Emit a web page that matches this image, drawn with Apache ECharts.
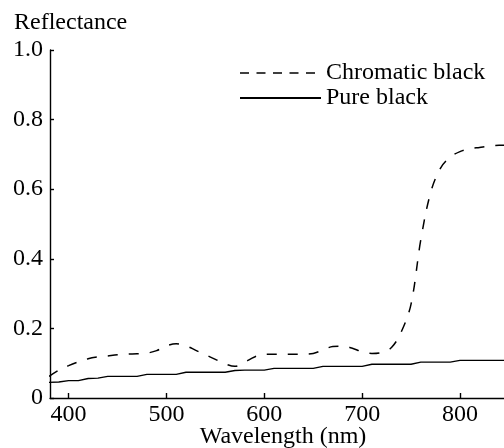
<!DOCTYPE html>
<html>
<head>
<meta charset="utf-8">
<script src="https://cdn.jsdelivr.net/npm/echarts@6/dist/echarts.min.js"></script>
<style>html,body{margin:0;padding:0;background:#fff;}#c{width:504px;height:448px;}</style>
</head>
<body>
<div id="c"></div>
<script>
const wavelengths = [380,390,400,410,420,430,440,450,460,470,480,490,500,510,520,530,540,550,560,570,580,590,600,610,620,630,640,650,660,670,680,690,700,710,720,730,740,750,760,770,780,790,800,810,820,830,840,850];
const chromaticBlack = [0.062,0.080,0.093,0.104,0.113,0.118,0.121,0.124,0.126,0.127,0.129,0.136,0.150,0.156,0.150,0.137,0.124,0.111,0.098,0.091,0.103,0.118,0.126,0.126,0.126,0.126,0.126,0.128,0.138,0.148,0.149,0.143,0.133,0.128,0.131,0.145,0.190,0.270,0.455,0.590,0.660,0.692,0.708,0.716,0.720,0.724,0.726,0.727];
const pureBlack = [0.045,0.046,0.050,0.050,0.056,0.057,0.062,0.062,0.062,0.062,0.068,0.068,0.068,0.068,0.074,0.074,0.074,0.074,0.074,0.079,0.080,0.080,0.080,0.085,0.085,0.085,0.085,0.085,0.091,0.091,0.091,0.091,0.091,0.097,0.097,0.097,0.097,0.097,0.103,0.103,0.103,0.103,0.108,0.108,0.108,0.108,0.108,0.108];
const xTicks = [400,500,600,700,800];
const seriesNames = ['Chromatic black','Pure black'];

const FONT = 'Liberation Serif';
const FS = 24;
const chart = echarts.init(document.getElementById('c'), null, {renderer:'canvas'});
chart.setOption({
  animation:false,
  backgroundColor:'#fff',
  title:{text:'Reflectance', left:9, top:6, padding:[5,5,5,5], textStyle:{fontFamily:FONT,fontSize:FS,fontWeight:'normal',color:'#000'}},
  grid:{left:50, right:0, top:50, bottom:50, outerBoundsMode:'none', containLabel:false},
  legend:{
    orient:'vertical', left:239, top:61, padding:0, itemWidth:81, itemHeight:14, itemGap:1,
    itemStyle:{opacity:0},
    textStyle:{fontFamily:FONT,fontSize:FS,color:'#000'},
    data:[
      {name:seriesNames[0], lineStyle:{type:[9,7.5], width:1.4}},
      {name:seriesNames[1]}
    ]
  },
  xAxis:{
    type:'value', min:381, max:845,
    name:'Wavelength (nm)', nameLocation:'middle', nameGap:27, nameMoveOverlap:false,
    nameTextStyle:{fontFamily:FONT,fontSize:FS,color:'#000',padding:[0,0,0,12]},
    axisLine:{onZero:false,lineStyle:{color:'#000',width:1.4}},
    axisTick:{inside:true,length:5,customValues:xTicks,lineStyle:{color:'#000',width:1.4}},
    axisLabel:{customValues:xTicks,fontFamily:FONT,fontSize:FS,color:'#000',margin:5},
    splitLine:{show:false}
  },
  yAxis:{
    type:'value', min:0, max:1, interval:0.2,
    axisLine:{show:true,lineStyle:{color:'#000',width:1.4}},
    axisTick:{show:true,inside:true,length:4,lineStyle:{color:'#000',width:1.4}},
    axisLabel:{fontFamily:FONT,fontSize:FS,color:'#000',margin:7,formatter:v=>v===0?'0':v.toFixed(1)},
    splitLine:{show:false}
  },
  series:[
    {name:seriesNames[0], type:'line', data:wavelengths.map((w,i)=>[w,chromaticBlack[i]]),
     symbol:'none', showSymbol:false, smooth:0.35, lineStyle:{color:'#000',width:1.5,type:[10,11]}, itemStyle:{color:'#000'}},
    {name:seriesNames[1], type:'line', data:wavelengths.map((w,i)=>[w,pureBlack[i]]),
     symbol:'none', showSymbol:false, lineStyle:{color:'#000',width:1.4,type:'solid'}, itemStyle:{color:'#000'}}
  ]
});
</script>
</body>
</html>
